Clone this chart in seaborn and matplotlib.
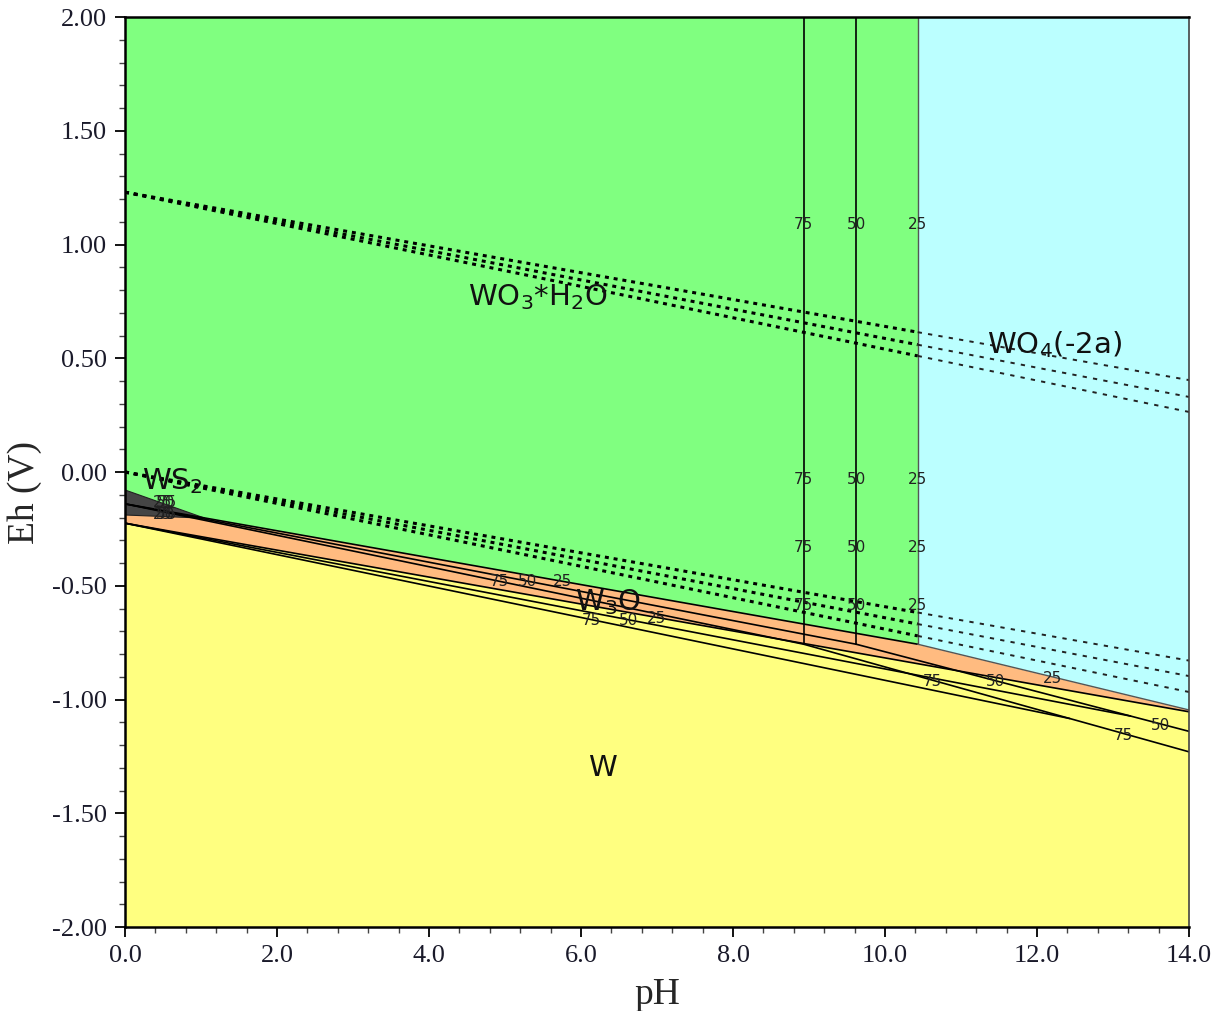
import numpy as np
import matplotlib
matplotlib.use("Agg")
import matplotlib.pyplot as plt
from matplotlib.ticker import MultipleLocator, FormatStrFormatter
import seaborn as sns

# ---- data -----------------------------------------------------------------
temps = ["25", "50", "75"]

# WO3*H2O / WO4(-2a) vertical boundaries (pH) for 25, 50, 75 C
wo3_wo4_ph = [10.43, 9.62, 8.93]
# Eh where the vertical boundaries end
corner_eh = -0.757

# WO3*H2O / W3O boundary: Eh at pH 0 (same for every temperature)
wo3_w3o_eh0 = -0.14
# W3O / WO4(-2a) boundary: Eh at pH 14
w3o_wo4_eh14 = [-1.046, -1.14, -1.23]
# W3O / W boundary: Eh at pH 0 and at pH 14
w3o_w_eh0 = -0.225
w3o_w_eh14 = [-1.054, -1.122, -1.192]

# water stability limits (O2/H2O and H2O/H2), Eh at pH 0 and pH 14
o2_eh0 = 1.23
o2_eh14 = [0.404, 0.330, 0.264]
h2_eh0 = 0.0
h2_eh14 = [-0.829, -0.897, -0.967]

# WS2 field outline
ws2_ph = [0.0, 1.05, 0.0]
ws2_eh = [-0.079, -0.203, -0.189]

# temperature tags along the boundaries
vtag_eh = [1.09, -0.035, -0.33, -0.585]
tag_wo3_w3o_ph = [5.76, 5.30, 4.93]
tag_wo3_w3o_eh = [-0.483, -0.483, -0.483]
tag_w3o_w_ph = [6.99, 6.62, 6.14]
tag_w3o_w_eh = [-0.642, -0.651, -0.651]
tag_w3o_wo4_ph = [12.21, 11.45, 10.62]
tag_w3o_wo4_eh = [-0.906, -0.919, -0.919]
tag_end_ph = [13.62, 13.14]
tag_end_eh = [-1.116, -1.160]
tag_end_txt = ["50", "75"]

PH_MIN, PH_MAX, EH_MIN, EH_MAX = 0.0, 14.0, -2.0, 2.0

C_GREEN = "#80ff80"
C_CYAN = "#bbffff"
C_ORANGE = "#ffbb80"
C_YELLOW = "#ffff80"
C_WS2 = "#454545"

# ---- figure -----------------------------------------------------------------
sns.set_theme(style="ticks")
plt.rcParams["font.family"] = ["DejaVu Sans"]

fig = plt.figure(figsize=(12.22, 10.11), dpi=100)
ax = fig.add_axes([125 / 1222, 1 - 927 / 1011, 1064 / 1222, 910 / 1011])


def line_eh(x0, y0, x1, y1, x):
    return y0 + (y1 - y0) * (np.asarray(x) - x0) / (x1 - x0)


def seg(xs, ys, **kw):
    sns.lineplot(x=list(xs), y=list(ys), estimator=None, sort=False, ax=ax,
                 legend=False, **kw)


# ---- stability fields (25 C) -------------------------------------------------
ph25 = wo3_wo4_ph[0]
top_x = np.array([PH_MIN, ph25, PH_MAX])
top_y = np.array([wo3_w3o_eh0, corner_eh, w3o_wo4_eh14[0]])
bot_y_at = lambda x: line_eh(0, w3o_w_eh0, 14, w3o_w_eh14[0], x)

xg = np.array([PH_MIN, ph25])
ax.fill_between(xg, np.interp(xg, top_x, top_y), EH_MAX, color=C_GREEN, lw=0)
xc = np.array([ph25, PH_MAX])
ax.fill_between(xc, np.interp(xc, top_x, top_y), EH_MAX, color=C_CYAN, lw=0)
ax.fill_between(top_x, bot_y_at(top_x), np.interp(top_x, top_x, top_y),
                color=C_ORANGE, lw=0)
xa = np.array([PH_MIN, PH_MAX])
ax.fill_between(xa, EH_MIN, bot_y_at(xa), color=C_YELLOW, lw=0)
ax.fill(ws2_ph, ws2_eh, color=C_WS2, lw=0.8, ec="#222222", zorder=2)

# ---- boundaries for each temperature ------------------------------------------
for i, t in enumerate(temps):
    pv = wo3_wo4_ph[i]
    # WO3*H2O / WO4(-2a)
    if i == 0:
        seg([pv, pv], [EH_MAX, corner_eh], color="#555555", lw=1.0)
    else:
        seg([pv, pv], [EH_MAX, corner_eh], color="black", lw=1.2)
    # WO3*H2O / W3O
    seg([PH_MIN, pv], [wo3_w3o_eh0, corner_eh], color="black", lw=1.2)
    # W3O / WO4(-2a)
    seg([pv, PH_MAX], [corner_eh, w3o_wo4_eh14[i]],
        color="#555555" if i == 0 else "black", lw=1.0 if i == 0 else 1.2)
    # W3O / W, ending where it meets the W3O / WO4 boundary
    s1 = (w3o_w_eh14[i] - w3o_w_eh0) / 14.0
    s2 = (w3o_wo4_eh14[i] - corner_eh) / (PH_MAX - pv)
    xi = (corner_eh - s2 * pv - w3o_w_eh0) / (s1 - s2)
    xe = min(PH_MAX, xi)
    seg([PH_MIN, xe], [w3o_w_eh0, line_eh(0, w3o_w_eh0, 14, w3o_w_eh14[i], xe)],
        color="black", lw=1.2)

# ---- water lines (dotted) -------------------------------------------------------
for i in range(3):
    for (e0, e14) in [(o2_eh0, o2_eh14[i]), (h2_eh0, h2_eh14[i])]:
        seg([PH_MIN, ph25], [e0, line_eh(0, e0, 14, e14, ph25)],
            color="black", lw=2.2, dashes=(1.3, 1.6))
        seg([ph25, PH_MAX], [line_eh(0, e0, 14, e14, ph25), e14],
            color="#222222", lw=1.4, dashes=(2.2, 3.2))

# ---- temperature tags --------------------------------------------------------------
tag_kw = dict(fontsize=11, ha="center", va="center", color="#222222", zorder=5)
for eh in vtag_eh:
    for i, t in enumerate(temps):
        ax.text(wo3_wo4_ph[i], eh, t, **tag_kw)
for i, t in enumerate(temps):
    ax.text(tag_wo3_w3o_ph[i], tag_wo3_w3o_eh[i], t, **tag_kw)
    ax.text(tag_w3o_w_ph[i], tag_w3o_w_eh[i], t, **tag_kw)
    ax.text(tag_w3o_wo4_ph[i], tag_w3o_wo4_eh[i], t, **tag_kw)
for p, e, t in zip(tag_end_ph, tag_end_eh, tag_end_txt):
    ax.text(p, e, t, **tag_kw)
for eh in (-0.135, -0.185):
    for i, t in enumerate(temps):
        ax.text(0.5 + 0.03 * i, eh, t, **tag_kw)

# ---- field names ----------------------------------------------------------------------
lab_kw = dict(fontsize=21, ha="center", va="center", color="#111111", zorder=6)
ax.text(5.43, 0.77, r"WO$_3$*H$_2$O", **lab_kw)
ax.text(12.23, 0.56, r"WO$_4$(-2a)", **lab_kw)
ax.text(0.62, -0.04, r"WS$_2$", **lab_kw)
ax.text(6.36, -0.57, r"W$_3$O", **lab_kw)
ax.text(6.28, -1.30, "W", **lab_kw)

# ---- axes ---------------------------------------------------------------------------------
ax.set_xlim(PH_MIN, PH_MAX)
ax.set_ylim(EH_MIN, EH_MAX)
ax.xaxis.set_major_locator(MultipleLocator(2.0))
ax.xaxis.set_minor_locator(MultipleLocator(0.4))
ax.yaxis.set_major_locator(MultipleLocator(0.5))
ax.yaxis.set_minor_locator(MultipleLocator(0.1))
ax.xaxis.set_major_formatter(FormatStrFormatter("%.1f"))
ax.yaxis.set_major_formatter(FormatStrFormatter("%.2f"))

serif = ["Liberation Serif", "DejaVu Serif"]
ax.tick_params(which="major", direction="out", length=7, width=1.3, color="black",
               labelsize=19, pad=6)
ax.tick_params(which="minor", direction="out", length=4, width=1.0, color="#444444")
for lb in ax.get_xticklabels() + ax.get_yticklabels():
    lb.set_fontfamily(serif)
    lb.set_color("#1a1a2a")
ax.set_xlabel("pH", fontsize=27, family=serif, va="center", ha="center")
ax.set_ylabel("Eh (V)", fontsize=27, family=serif, va="center", ha="center")
ax.xaxis.set_label_coords(0.5, -0.075)
ax.yaxis.set_label_coords(-0.094, 0.478)

for side in ("left", "bottom", "top"):
    ax.spines[side].set_color("black")
    ax.spines[side].set_linewidth(1.8)
ax.spines["right"].set_color("#444444")
ax.spines["right"].set_linewidth(1.2)

fig.savefig("out.png", dpi=100, facecolor="white")
